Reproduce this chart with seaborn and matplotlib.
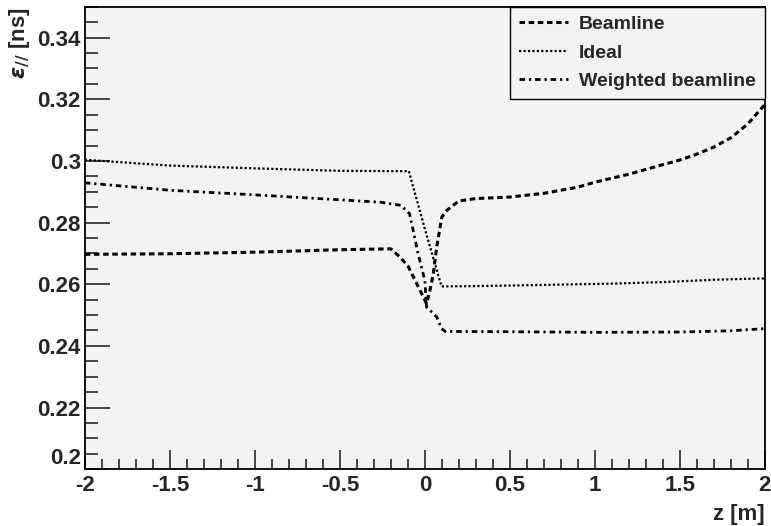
import pandas as pd
import seaborn as sns
import matplotlib.pyplot as plt
from matplotlib.ticker import MultipleLocator

# --- data ---
beam_z = [-2, -1.5, -1, -0.5, -0.3, -0.2, -0.15, -0.1, -0.05, -0.01, 0.01, 0.03,
          0.05, 0.07, 0.1, 0.13, 0.2, 0.3, 0.5, 0.7, 0.9, 1.0, 1.2, 1.4, 1.5,
          1.6, 1.7, 1.8, 1.9, 2.0]
beam_eps = [0.2697, 0.2699, 0.2704, 0.2712, 0.2714, 0.2715, 0.2690, 0.2660, 0.2605,
            0.2560, 0.2537, 0.2580, 0.2634, 0.2721, 0.2818, 0.2840, 0.2870, 0.2878,
            0.2883, 0.2895, 0.2915, 0.2931, 0.2957, 0.2988, 0.3003, 0.3022, 0.3045,
            0.3075, 0.3120, 0.3183]

ideal_z = [-2, -1.5, -1, -0.5, -0.2, -0.094, 0.0, 0.098, 0.3, 0.62, 1.1, 1.4, 1.72, 2.0]
ideal_eps = [0.3004, 0.2985, 0.2976, 0.2968, 0.2967, 0.2967, 0.2780, 0.2593, 0.2594,
             0.2597, 0.2602, 0.2607, 0.2615, 0.2619]

weight_z = [-2, -1.5, -1, -0.5, -0.26, -0.14, -0.09, -0.06, -0.04, 0.0, 0.01, 0.04,
            0.07, 0.098, 0.12, 0.5, 1.0, 1.5, 1.8, 2.0]
weight_eps = [0.2929, 0.2905, 0.2890, 0.2874, 0.2866, 0.2856, 0.2829, 0.2753, 0.2700,
              0.2613, 0.2526, 0.2510, 0.2494, 0.2456, 0.2447, 0.2446, 0.2444, 0.2445,
              0.2449, 0.2456]

labels = ['Beamline', 'Ideal', 'Weighted beamline']

df = pd.concat([
    pd.DataFrame({'z': beam_z, 'eps': beam_eps, 'series': labels[0]}),
    pd.DataFrame({'z': ideal_z, 'eps': ideal_eps, 'series': labels[1]}),
    pd.DataFrame({'z': weight_z, 'eps': weight_eps, 'series': labels[2]}),
])

# --- style ---
sns.set_theme(style='ticks')
plt.rcParams['font.family'] = ['Liberation Sans', 'DejaVu Sans']
plt.rcParams['font.weight'] = 'bold'

fig = plt.figure(figsize=(7.71, 5.26), dpi=100)
ax = fig.add_axes([0.110, 0.108, 0.882, 0.879])
ax.set_facecolor('#f2f2f2')

line_styles = {
    'Beamline': dict(dashes=(1.8, 1.2), lw=2.2),
    'Ideal': dict(dashes=(1, 1), lw=1.6),
    'Weighted beamline': dict(dashes=(2, 1.4, 0.8, 1.4), lw=2.0),
}

for name in labels:
    sub = df[df['series'] == name]
    st = line_styles[name]
    sns.lineplot(data=sub, x='z', y='eps', ax=ax, color='black', label=name,
                 linewidth=st['lw'], estimator=None, sort=False, errorbar=None)
    ax.lines[-1].set_dashes(st['dashes'])

ax.set_xlim(-2, 2)
ax.set_ylim(0.2, 0.35)
ax.xaxis.set_minor_locator(MultipleLocator(0.1))
ax.yaxis.set_minor_locator(MultipleLocator(0.005))
ax.set_xticks([-2, -1.5, -1, -0.5, 0, 0.5, 1, 1.5, 2])
ax.set_xticklabels(['-2', '-1.5', '-1', '-0.5', '0', '0.5', '1', '1.5', '2'])
ax.set_yticks([0.2, 0.22, 0.24, 0.26, 0.28, 0.3, 0.32, 0.34])
ax.set_yticklabels(['0.2', '0.22', '0.24', '0.26', '0.28', '0.3', '0.32', '0.34'])

ax.tick_params(axis='y', which='major', direction='in', length=18, width=1.2,
               labelsize=16, pad=3)
ax.tick_params(axis='y', which='minor', direction='in', length=9, width=1.2)
ax.tick_params(axis='x', which='major', direction='in', length=14, width=1.2,
               labelsize=16, pad=4)
ax.tick_params(axis='x', which='minor', direction='in', length=7, width=1.2)
for lab in ax.get_xticklabels() + ax.get_yticklabels():
    lab.set_fontweight('bold')
# the lowest y label sits just above the "-2" like in the original
ax.get_yticklabels()[0].set_va('bottom')

for s in ax.spines.values():
    s.set_color('black')
    s.set_linewidth(1.3)

ax.set_xlabel('z [m]', loc='right', fontsize=16, fontweight='bold', labelpad=6)
ax.set_ylabel(r'$\epsilon_{//}$ [ns]', loc='top', fontsize=16, fontweight='bold',
              labelpad=4)

leg = ax.legend(loc='upper right', fontsize=14, frameon=True, fancybox=False,
                framealpha=1, facecolor='#f2f2f2', edgecolor='black',
                borderaxespad=0, handlelength=2.5, handletextpad=0.6,
                labelspacing=0.55, borderpad=0.45)
leg.get_frame().set_linewidth(1.0)
for t in leg.get_texts():
    t.set_fontweight('bold')

fig.savefig('out.png', dpi=100)
